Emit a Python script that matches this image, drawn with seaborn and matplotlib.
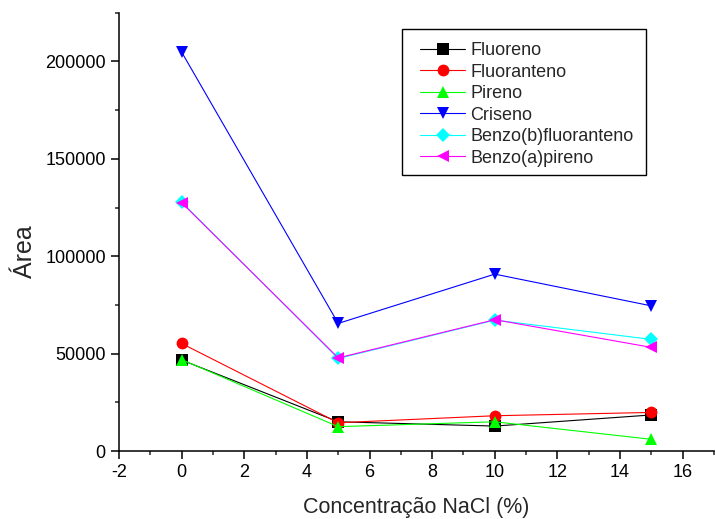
import matplotlib
matplotlib.use("Agg")
import matplotlib.pyplot as plt
from matplotlib.ticker import MultipleLocator
from matplotlib.patches import Rectangle
import seaborn as sns
import pandas as pd

concentracao = [0, 5, 10, 15]
series_names = ["Fluoreno", "Fluoranteno", "Pireno", "Criseno",
                "Benzo(b)fluoranteno", "Benzo(a)pireno"]
fluoreno = [46700, 15000, 12800, 18500]
fluoranteno = [55200, 14500, 18100, 19800]
pireno = [46900, 12500, 15000, 6000]
criseno = [204800, 65500, 90800, 74500]
benzo_b = [127800, 47500, 67200, 57300]
benzo_a = [127500, 47800, 67400, 53200]
values = [fluoreno, fluoranteno, pireno, criseno, benzo_b, benzo_a]

colors = ["#000000", "#FF0000", "#00FF00", "#0000FF", "#00FFFF", "#FF00FF"]
markers = ["s", "o", "^", "v", "D", "<"]
msizes = [8, 8.5, 9, 9, 7.5, 9]

sns.set_style("ticks")
plt.rcParams["font.family"] = ["Liberation Sans", "DejaVu Sans"]
plt.rcParams["axes.unicode_minus"] = False

W, H = 715, 519
fig = plt.figure(figsize=(W / 100, H / 100), dpi=100)
ax = fig.add_axes([119 / W, (H - 451) / H, 595 / W, (451 - 12.7) / H])

for name, vals, c, m, ms in zip(series_names, values, colors, markers, msizes):
    df = pd.DataFrame({"x": concentracao, "y": vals})
    sns.lineplot(data=df, x="x", y="y", ax=ax, color=c, marker=m,
                 markersize=ms, markeredgewidth=0, linewidth=0.8,
                 label=name, legend=False, errorbar=None)

ax.set_xlim(-2, 17)
ax.set_ylim(0, 225000)
ax.xaxis.set_major_locator(MultipleLocator(2))
ax.xaxis.set_minor_locator(MultipleLocator(1))
ax.yaxis.set_major_locator(MultipleLocator(50000))
ax.yaxis.set_minor_locator(MultipleLocator(25000))
ax.tick_params(which="major", direction="out", length=6, width=1.1,
               labelsize=13, colors="black")
ax.tick_params(which="minor", direction="out", length=3, width=1.1)
for s in ["top", "right"]:
    ax.spines[s].set_visible(False)
for s in ["left", "bottom"]:
    ax.spines[s].set_linewidth(1.1)
    ax.spines[s].set_color("black")

ax.set_xlabel("Concentração NaCl (%)", fontsize=15.5)
ax.set_ylabel("Área", fontsize=18)
ax.xaxis.set_label_coords(0.5, -0.105)
ax.yaxis.set_label_coords(-0.138, 0.456)

leg = ax.legend(loc="upper left", bbox_to_anchor=(420 / W, (H - 42) / H),
                bbox_transform=fig.transFigure,
                fontsize=13, frameon=False,
                handlelength=2.5, handletextpad=0.3, labelspacing=0.25,
                borderpad=0, borderaxespad=0)
fig.patches.append(Rectangle((402 / W, (H - 175) / H), (646 - 402) / W,
                             (175 - 29) / H, transform=fig.transFigure,
                             fill=False, edgecolor="black", linewidth=1.0))

fig.savefig("out.png", dpi=100)
